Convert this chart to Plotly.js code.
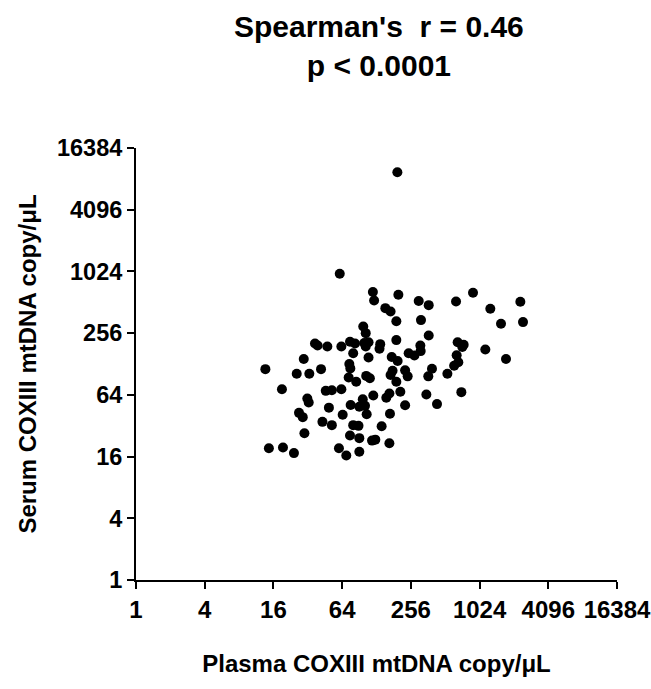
<!DOCTYPE html>
<html>
<head>
<meta charset="utf-8">
<script src="https://cdn.plot.ly/plotly-3.0.1.min.js"></script>
<style>html,body{margin:0;padding:0;background:#fff;}#chart{width:651px;height:689px;}</style>
</head>
<body>
<div id="chart"></div>
<script>
// Plasma COXIII mtDNA copy/µL (x) vs Serum COXIII mtDNA copy/µL (y)
const plasmaCopies = [
  195, 61, 119, 122, 199, 300, 367, 637, 897, 1272, 2331, 1578, 2460, 153, 170, 191, 314, 98, 103, 367,
  191, 37, 39, 47.5, 63, 75, 83, 100, 109, 103, 138, 136, 310, 658, 743, 723, 1150, 1745, 29.5, 80,
  109, 174, 196, 245, 275, 312, 645, 13.6, 25.6, 33, 41.8, 74, 75.5, 73, 85, 104, 112, 177, 170, 191,
  228, 240, 392, 364, 535, 613, 667, 19, 46, 52, 63, 120, 156, 166, 207, 350, 709, 31.7, 32.6, 97,
  76, 90.5, 101.5, 105, 49, 228, 434, 26.8, 28.9, 64.7, 168, 43, 52, 80, 89, 142, 29.9, 75, 90.5, 117,
  125, 166, 14.6, 19.4, 24.2, 60, 69.6, 90.5
];
const serumCopies = [
  9500, 972, 644, 533, 606, 526, 480, 522, 634, 442, 518, 316, 328, 449, 417, 335, 343, 297, 256, 243,
  219, 203, 194, 190, 190, 211, 203, 205, 209, 190, 200, 180, 194, 209, 197, 188, 177, 143, 143, 163,
  148, 150, 137, 163, 155, 171, 156, 114, 103, 103, 114, 128, 116, 94.5, 86, 98, 93, 110, 100, 86,
  111, 97, 115, 97, 103, 123, 133, 72.7, 70, 71, 72.7, 63, 60, 66, 68.5, 64.5, 68, 59, 54, 58,
  51, 49, 50, 41.4, 48, 50.7, 52, 42.7, 38.8, 41, 41.8, 34.9, 32.4, 32.4, 31.9, 31.6, 27, 25.7, 24.2, 22.9,
  23.4, 21.6, 19.3, 19.6, 17.3, 19.3, 16.4, 17.8
];
const tickValues = [1, 4, 16, 64, 256, 1024, 4096, 16384];
const tickLabels = ['1', '4', '16', '64', '256', '1024', '4096', '16384'];

const FONT = 'Liberation Sans, Arial, sans-serif';

const trace = {
  x: plasmaCopies,
  y: serumCopies,
  type: 'scatter',
  mode: 'markers',
  marker: {color: '#000', size: 10, line: {width: 0}},
  hoverinfo: 'x+y'
};

const axisCommon = {
  type: 'log',
  range: [0, Math.log10(16384)],
  tickvals: tickValues,
  ticktext: tickLabels,
  showline: true,
  linecolor: '#000',
  linewidth: 2,
  ticks: 'outside',
  ticklen: 7,
  tickwidth: 2,
  tickcolor: '#000',
  showgrid: false,
  zeroline: false,
  color: '#000',
  ticklabeloverflow: 'allow'
};

const layout = {
  width: 651,
  height: 689,
  margin: {l: 136, r: 34, t: 148, b: 109},
  paper_bgcolor: '#fff',
  plot_bgcolor: '#fff',
  showlegend: false,
  font: {family: FONT, color: '#000'},
  title: {
    text: '<b>Spearman\'s\u00a0\u00a0r = 0.46<br>p < 0.0001</b>',
    font: {family: FONT, size: 30, color: '#000'},
    x: 0.505, xref: 'paper', xanchor: 'center',
    y: 0.946, yref: 'container', yanchor: 'top'
  },
  xaxis: Object.assign({}, axisCommon, {
    tickfont: {family: FONT, size: 24, color: '#000', weight: 'bold'},
    title: {text: '<b>Plasma COXIII mtDNA copy/\u03bcL</b>', font: {family: FONT, size: 24, color: '#000'}, standoff: 33}
  }),
  yaxis: Object.assign({}, axisCommon, {
    tickfont: {family: FONT, size: 23.5, color: '#000', weight: 'bold'},
    title: {text: '<b>Serum COXIII mtDNA copy/\u03bcL</b>', font: {family: FONT, size: 24, color: '#000'}, standoff: 14}
  })
};

Plotly.newPlot('chart', [trace], layout, {displayModeBar: false, staticPlot: true});
</script>
</body>
</html>
